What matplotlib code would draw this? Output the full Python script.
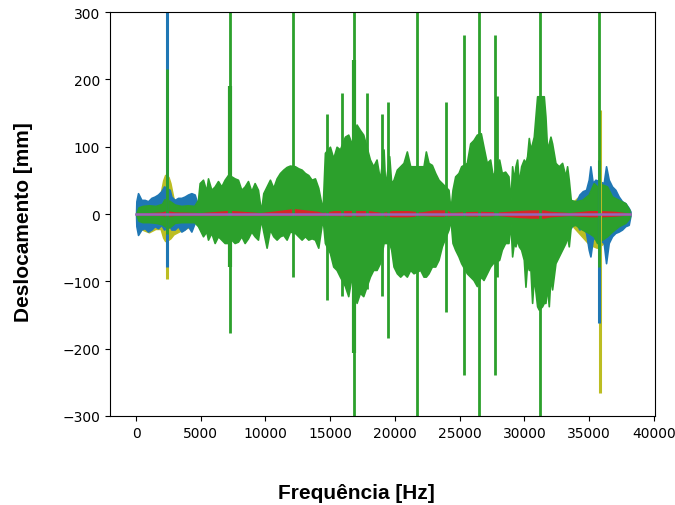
import matplotlib
matplotlib.use('Agg')
import matplotlib.pyplot as plt
import numpy as np

# envelope readings (Hz, upper, lower)
green_f = [0, 200, 500, 1000, 1500, 2000, 2200, 2550, 3000, 3500, 4000, 4500,
           4786, 4915, 5172, 5429, 5558, 5816, 6073, 6330, 6588, 6845, 7102, 7360,
           7617, 7874, 8132, 8389, 8646, 8904, 9161, 9418, 9650, 9830, 10087, 10344,
           10602, 10859, 11117, 11374, 11632, 11889, 12275, 12532, 12790, 13047, 13304,
           13562, 13819, 14076, 14411, 14591, 14977, 15234, 15492, 15749, 16135, 16392,
           16650, 17036, 17293, 17551, 18065, 18323, 18580, 18838, 19120, 19248, 19557,
           19711, 19891, 20148, 20406, 20663, 20920, 21178, 21435, 21950, 22208, 22388,
           22594, 22851, 23108, 23366, 23623, 24138, 24292, 24447, 24653, 24910, 25116,
           25554, 25811, 26068, 26326, 26634, 26840, 27097, 27354, 27560, 28049, 28255,
           28512, 28770, 28924, 29053, 29182, 29310, 29439, 29568, 29748, 29954, 30082,
           30211, 30340, 30469, 30597, 30726, 30983, 31112, 31369, 31498, 31626, 31755,
           31884, 32013, 32141, 32399, 32656, 32913, 33170, 33299, 33428, 33582, 33942,
           34457, 34971, 35357, 35614, 35999, 36385, 36771, 37285, 37800, 38109]
green_hi = [0, 10, 12, 13, 12, 15, 22, 20, 14, 12, 13, 12,
            21, 46, 51, 34, 53, 36, 41, 49, 41, 51, 58, 56,
            53, 51, 36, 41, 49, 34, 46, 36, 4, 31, 41, 51,
            39, 53, 61, 66, 70, 72, 71, 68, 66, 61, 58,
            51, 53, 39, 6, 91, 100, 83, 100, 96, 115, 118,
            105, 133, 125, 118, 81, 71, 81, 51, 96, 41, 86,
            46, 51, 66, 71, 76, 93, 71, 71, 71, 71, 93,
            76, 73, 61, 51, 46, 36, 6, 36, 56, 61, 71,
            76, 105, 110, 118, 120, 100, 76, 81, 56, 81, 61,
            63, 56, 19, 71, 51, 71, 81, 46, 71, 81, 76,
            86, 113, 96, 105, 115, 175, 175, 175, 175, 145, 96,
            105, 115, 105, 76, 71, 76, 56, 71, 51, 21, 19,
            21, 29, 46, 41, 44, 41, 26, 21, 16, 6]
green_lo = [0, -10, -12, -12, -13, -15, -18, -20, -13, -12, -12, -12,
            -18, -23, -33, -26, -38, -28, -43, -33, -38, -43, -43, -38,
            -43, -41, -33, -43, -36, -26, -33, -38, -8, -26, -50, -23,
            -33, -38, -33, -31, -38, -26, -28, -33, -38, -33, -38,
            -36, -38, -50, -6, -43, -58, -78, -83, -93, -107, -122,
            -93, -132, -117, -122, -93, -83, -83, -73, -43, -43, -43,
            -53, -78, -88, -93, -88, -93, -83, -88, -83, -93, -93,
            -88, -78, -78, -68, -48, -23, -8, -43, -53, -63, -73,
            -88, -93, -98, -107, -93, -98, -88, -78, -73, -68, -53,
            -43, -43, -13, -63, -43, -48, -38, -48, -53, -68, -108,
            -73, -83, -83, -132, -93, -137, -142, -137, -132, -132, -108,
            -137, -93, -112, -73, -63, -53, -43, -33, -48, -18, -16,
            -23, -28, -33, -43, -38, -33, -26, -18, -13, -6]
# thin tall peaks of the green series
green_pk_f = [2368, 7230, 12094, 14720, 15929, 16856, 17808, 19018, 19428, 21718,
              23932, 25322, 26480, 27740, 27869, 31240, 35794]
green_pk_hi = [215, 420, 420, 148, 180, 420, 180, 148, 167, 420,
               167, 266, 420, 266, 175, 420, 420]
green_pk_lo = [-30, -177, -93, -127, -122, -420, -112, -122, -184, -420,
               -145, -239, -420, -239, -93, -420, -78]
green_core_f = [7230, 16856]
green_core_hi = [190, 229]
green_core_lo = [-78, -206]

blue_f = [0, 26, 154, 412, 669, 926, 1184, 1441, 1698, 1956, 2162, 2600, 2728, 2986,
          3243, 3500, 3757, 4015, 4272, 4529, 4735, 4900, 33400, 33582, 33814, 34071,
          34251, 34508, 34765, 34971, 35100, 35280, 35486, 36128, 36308, 36514, 36771,
          37028, 37285, 37543, 37800, 38057, 38186]
blue_hi = [0, 19, 31, 21, 21, 19, 24, 26, 29, 34, 41, 36, 26, 21,
           24, 24, 26, 29, 31, 29, 16, 0, 0, 19, 16, 21,
           29, 34, 36, 51, 71, 46, 51, 46, 71, 51, 41,
           36, 26, 19, 16, 9, 4]
blue_lo = [0, -18, -31, -23, -21, -26, -23, -18, -21, -16, -23, -18, -23, -23,
           -18, -26, -23, -18, -26, -13, -8, 0, 0, -21, -13, -16,
           -23, -18, -28, -53, -63, -38, -33, -43, -73, -43, -33,
           -28, -26, -23, -18, -16, -3]
blue_pk_f = [2368, 35794]
blue_pk_hi = [420, 80]
blue_pk_lo = [-78, -162]

yellow_f = [0, 200, 600, 1000, 1500, 1900, 2100, 2250, 2500, 2650, 2900, 3500, 4000,
            4700, 4900, 33400, 33600, 35000, 35600, 36000, 37000, 38186]
yellow_hi = [0, 18, 17, 16, 20, 30, 50, 58, 55, 46, 22, 18, 22,
             12, 0, 0, 15, 40, 45, 40, 25, 3]
yellow_lo = [0, -20, -24, -27, -22, -22, -35, -40, -38, -36, -30, -24, -20,
             -8, 0, 0, -15, -45, -50, -45, -25, -3]
yellow_pk_f = [2368, 35840]
yellow_pk_hi = [58, 155]
yellow_pk_lo = [-97, -266]

red_f = [0, 2000, 2368, 3000, 5000, 7000, 7500, 9600, 10500, 12200, 14000, 14400,
         15300, 16800, 18000, 19000, 19800, 21000, 22000, 23000, 24000, 24300, 25000,
         26500, 28000, 29500, 30500, 31500, 32000, 33500, 35000, 36000, 37000, 38186]
red_hi = [0, 2, 4, 2, 1, 4, 4, 1, 3, 7, 3, 1,
          4, 4, 4, 1, 4, 4, 2, 5, 5, 1, 2,
          3, 2, 4, 5, 5, 3, 1, 4, 4, 3, 0]
red_lo = [0, -1, -2, -1, -1, -1, -1, -1, -1, -1, -1, -1,
          -1, -2, -1, -1, -3, -3, -1, -2, -2, -1, -1,
          -2, -1, -4, -5, -5, -3, -1, -3, -3, -2, 0]

purple_f = [0, 9600, 19000, 28900, 38186]
purple_v = [0, 0, 0, 0, 0]

yellow = '#bcbd22'
blue = '#1f77b4'
green = '#2ca02c'
red = '#d62728'
purple = '#9467bd'

fig = plt.figure(figsize=(6.75, 5.06), dpi=100)
ax = fig.add_axes([0.163, 0.176, 0.807, 0.798])

def draw(f, hi, lo, c):
    ax.fill_between(f, lo, hi, color=c, lw=1.2, edgecolor=c)

draw(yellow_f, yellow_hi, yellow_lo, yellow)
ax.vlines(yellow_pk_f, yellow_pk_lo, yellow_pk_hi, color=yellow, lw=2.2)
draw(blue_f, blue_hi, blue_lo, blue)
ax.vlines(blue_pk_f, blue_pk_lo, blue_pk_hi, color=blue, lw=2.2)
draw(green_f, green_hi, green_lo, green)
ax.vlines(green_pk_f, green_pk_lo, green_pk_hi, color=green, lw=2.0)
ax.vlines(green_core_f, green_core_lo, green_core_hi, color=green, lw=3.0)
draw(red_f, red_hi, red_lo, red)
ax.plot(purple_f, purple_v, color=purple, lw=1.8)

ax.set_ylim(-300, 300)
ax.set_xlim(-2010, 40070)
ax.set_xticks(np.arange(0, 40001, 5000))
ax.set_yticks(np.arange(-300, 301, 100))
ax.tick_params(labelsize=10)

fig.text(356 / 675, 1 - 494 / 506, 'Frequência [Hz]', ha='center', va='center',
         fontsize=15, fontweight='bold', family='Liberation Sans')
fig.text(24 / 675, 1 - 222 / 506, 'Deslocamento [mm]', ha='center', va='center',
         rotation=90, fontsize=15, fontweight='bold', family='Liberation Sans')

fig.savefig('out.png', dpi=100)
